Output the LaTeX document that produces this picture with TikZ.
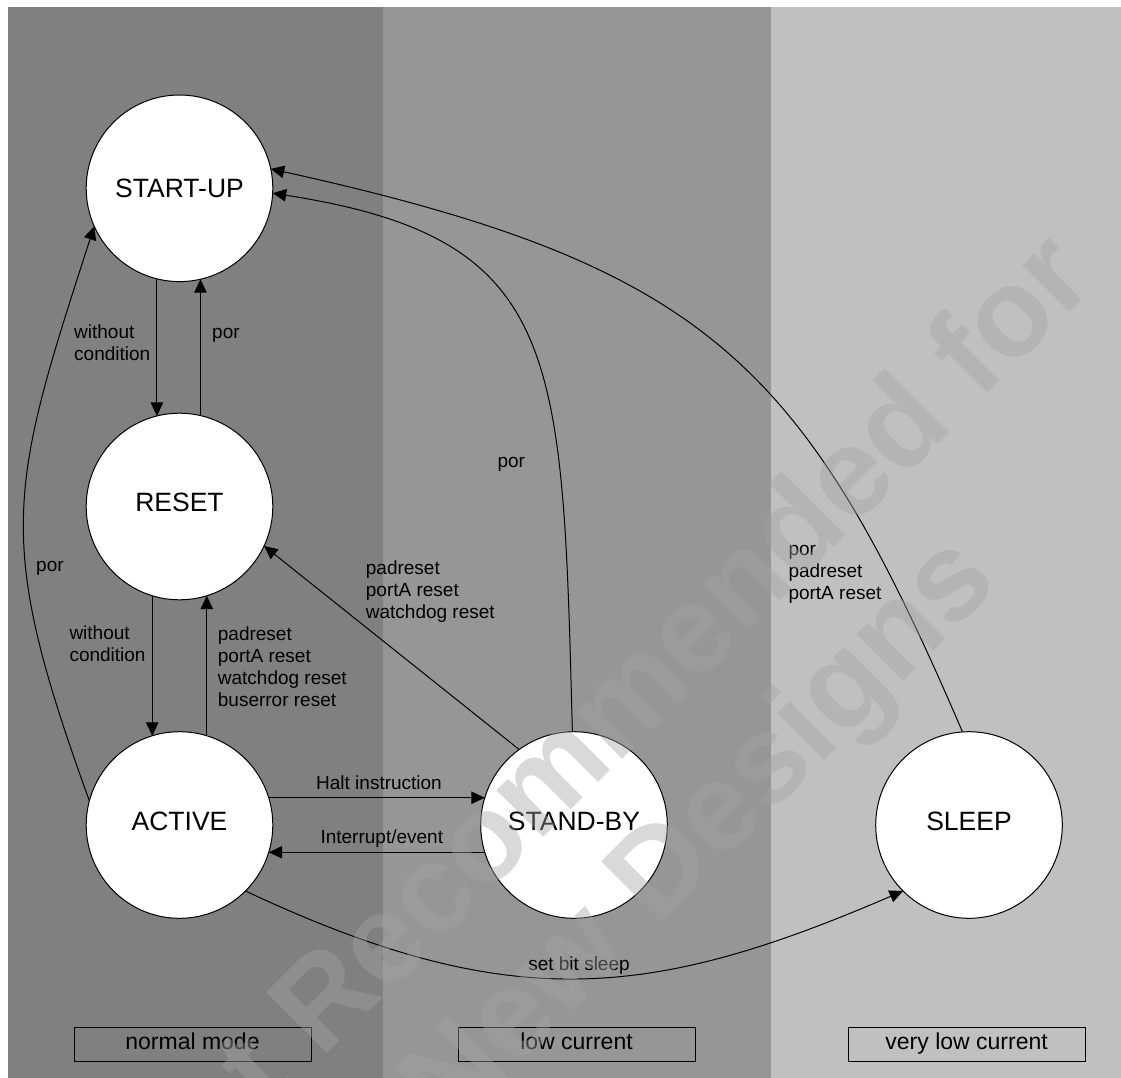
\documentclass[tikz,border=0pt]{standalone}
\usepackage{fontspec}
\setmainfont{Liberation Sans}
\usetikzlibrary{arrows.meta}
\definecolor{bandA}{RGB}{128,128,128}
\definecolor{bandB}{RGB}{150,150,150}
\definecolor{bandC}{RGB}{192,192,192}
\definecolor{wmgray}{RGB}{163,163,163}
\newcommand{\mylines}[1]{\begin{tabular}[t]{@{}l@{}}#1\end{tabular}}
\begin{document}
\begin{tikzpicture}[x=1pt,y=-1pt,
  state/.style={circle,draw,fill=white,line width=1pt,minimum size=186.6pt,inner sep=0pt,outer sep=0pt,font=\fontsize{26.5}{30}\selectfont},
  lowtext/.style={text height=19pt,text depth=9pt},
  conn/.style={line width=1pt,-{Triangle[length=13.5pt,width=12.5pt]}},
  lbl/.style={inner sep=0pt,anchor=base west,font=\fontsize{19}{22}\selectfont},
  ctr/.style={inner sep=0pt,anchor=base,font=\fontsize{19}{22}\selectfont},
  mode/.style={draw,line width=1pt,minimum width=237pt,minimum height=34pt,inner sep=0pt,text height=16pt,text depth=6pt,font=\fontsize{23}{26}\selectfont},
  wm/.style={text=wmgray,text opacity=0.41,font=\fontsize{125}{144}\selectfont\bfseries,align=center,rotate=45,inner sep=0pt}
]
\useasboundingbox (0,0) rectangle (1121,1078);
\fill[white] (0,0) rectangle (1121,1078);
\fill[bandA] (8,7) rectangle (383,1078);
\fill[bandB] (383,7) rectangle (771,1078);
\fill[bandC] (771,7) rectangle (1121,1078);

\node[state] (SU) at (179.5,188.3) {START-UP};
\node[state,lowtext] (R) at (179.5,506.5) {RESET};
\node[state,lowtext] (A) at (179.5,825) {ACTIVE};
\node[state,lowtext] (SB) at (574,825) {STAND-BY};
\node[state,lowtext] (SL) at (969,825) {SLEEP};

\draw[conn] (SU.256) -- (R.104);
\draw[conn] (R.77) -- (SU.283);
\draw[conn] (R.253) -- (A.107);
\draw[conn] (A.73) -- (R.287);
\draw[conn] (A.165) .. controls +(-95,-262) and +(-86,265) .. (SU.204);
\draw[conn] (SB.126) -- (R.-25);
\draw[conn] (SB.91) .. controls +(-10,-380) and +(290,45) .. (SU.-3);
\draw[conn] (SL.94) .. controls +(-158,-368) and +(439,97) .. (SU.12);
\draw[conn] (A.17) -- (SB.163);
\draw[conn] (SB.197) -- (A.-17);
\draw[conn] (A.-45) .. controls +(264,124) and +(-253,109) .. (SL.225);

\node[lbl] (l1) at (74,338) {\mylines{without\\condition}};
\node[lbl] (l2) at (212,338) {por};
\node[lbl] (l3) at (69.3,639.5) {\mylines{without\\condition}};
\node[lbl] (l4) at (217.7,640.5) {\mylines{padreset\\portA reset\\watchdog reset\\buserror reset}};
\node[lbl] (l5) at (36,571.5) {por};
\node[lbl] (l6) at (365.7,574) {\mylines{padreset\\portA reset\\watchdog reset}};
\node[lbl] (l7) at (497.3,467.5) {por};
\node[lbl] (l8) at (788.3,555) {\mylines{por\\padreset\\portA reset}};
\node[ctr] (l9) at (379,789) {Halt instruction};
\node[ctr] (l10) at (381.8,843) {Interrupt/event};
\node[ctr] (l11) at (579,970) {set bit sleep};

\node[mode] (m1) at (192.5,1044.5) {normal mode};
\node[mode] (m2) at (576.5,1044.5) {low current};
\node[mode] (m3) at (966.6,1044.5) {very low current};

\node[wm] (wm) at (652,786) {Not Recommended for\\New Designs};
\end{tikzpicture}
\end{document}
